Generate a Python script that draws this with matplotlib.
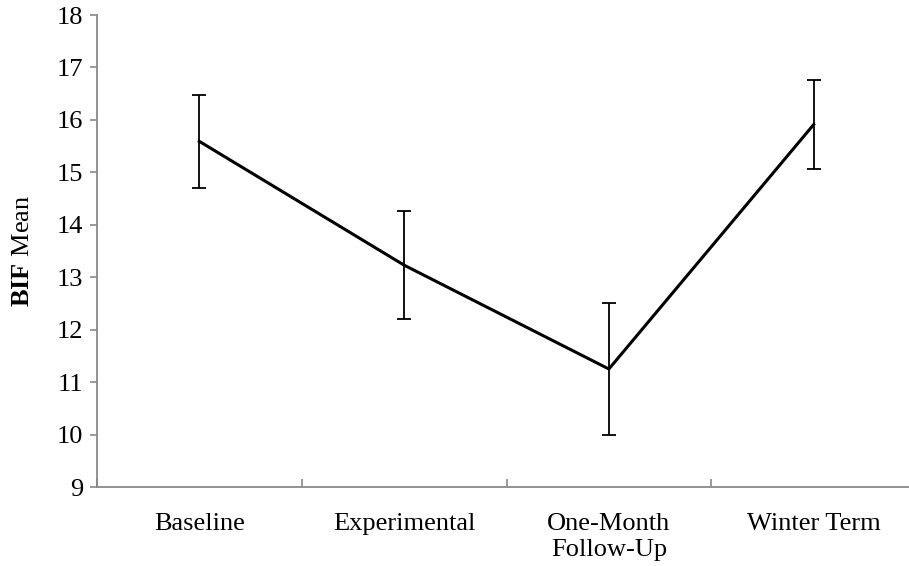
import matplotlib.pyplot as plt
from matplotlib.ticker import FixedLocator

plt.rcParams['font.family'] = 'Liberation Serif'
plt.rcParams['mathtext.fontset'] = 'custom'
plt.rcParams['mathtext.rm'] = 'Liberation Serif'
plt.rcParams['mathtext.bf'] = 'Liberation Serif:bold'

# Datos
categorias = ['Baseline', 'Experimental', 'One-Month\nFollow-Up', 'Winter Term']
medias = [15.59, 13.23, 11.25, 15.91]
errores = [0.89, 1.03, 1.25, 0.85]
yticks = [9, 10, 11, 12, 13, 14, 15, 16, 17, 18]

fig = plt.figure(figsize=(9.09, 5.66), dpi=100)
ax = fig.add_axes([97 / 909, 1 - 487 / 566, 819 / 909, 472 / 566])

x = list(range(len(categorias)))
ax.errorbar(x, medias, yerr=errores, color='black', linewidth=2.2,
            ecolor='black', elinewidth=1.3, capsize=4.7, capthick=1.3)

ax.set_xlim(-0.5, 3.5)
ax.set_ylim(9, 18)
ax.set_yticks(yticks)
ax.set_xticks(x)
ax.set_xticklabels(categorias, fontsize=19, linespacing=1.2)
ax.xaxis.set_minor_locator(FixedLocator([-0.5, 0.5, 1.5, 2.5, 3.5]))
ax.tick_params(axis='x', which='major', length=0, pad=19)
ax.tick_params(axis='x', which='minor', direction='in', length=6, width=1.2, color='#898989')
ax.tick_params(axis='y', direction='out', length=5, width=1.2, color='#898989',
               labelsize=19, pad=5)

for lado in ['top', 'right']:
    ax.spines[lado].set_visible(False)
for lado in ['left', 'bottom']:
    ax.spines[lado].set_color('#898989')
    ax.spines[lado].set_linewidth(1.3)

ax.set_ylabel(r'$\mathbf{BIF}$ Mean', fontsize=19, labelpad=16)

fig.savefig('out.png', dpi=100)
